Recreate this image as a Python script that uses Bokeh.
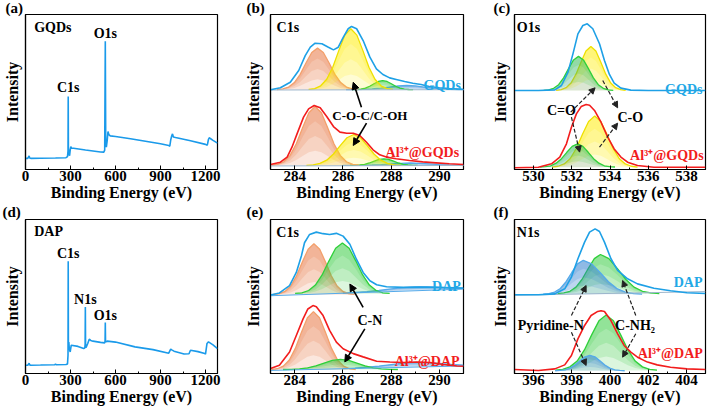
import numpy as np
from bokeh.plotting import figure
from bokeh.layouts import gridplot
from bokeh.models import Range1d, Label, Arrow, NormalHead, FixedTicker, Title
from bokeh.embed import file_html
from bokeh.resources import INLINE

FONT = "Liberation Serif"

# ---------------- survey spectra (a) GQDs, (d) DAP ----------------
sa_x = [0, 15, 24, 28, 35, 100, 200, 270, 280, 283.5, 284.8, 286, 290, 294, 298, 302, 306, 320, 400, 500,
        522, 528, 532, 535, 539, 545, 550, 556, 565, 600, 700, 800, 900, 955, 962, 968, 975, 980, 986,
        1000, 1100, 1200, 1212, 1220, 1225, 1232, 1250, 1280]
sa_y = [7.2, 7.2, 8.8, 7.4, 7.2, 7.3, 7.4, 7.6, 8.3, 12, 47.1, 14, 9.8, 8.9, 12.5, 14.8, 13.8, 13.7, 12.6, 11.3,
        11.2, 12.5, 82.7, 16, 14.5, 19, 24.5, 22.5, 21.7, 21.3, 19.8, 18.2, 16.6, 15.5, 15.0, 19, 21.8, 23, 21,
        20.6, 18.6, 16.2, 15.7, 19.5, 20.5, 20.0, 18.8, 17.0]
sd_x = [0, 15, 24, 28, 35, 100, 195, 200, 205, 270, 280, 283.5, 284.8, 286, 289, 292, 298, 305, 350, 388,
        395, 397.5, 399, 400.5, 404, 415, 425, 435, 450, 500, 528, 530.5, 532, 533.5, 537, 545, 600, 730,
        850, 955, 968, 978, 990, 1057, 1090, 1100, 1150, 1195, 1200, 1210, 1220, 1250, 1280]
sd_y = [5.4, 5.4, 6.6, 5.6, 5.4, 5.5, 5.7, 6.2, 5.7, 5.8, 6.2, 12, 72.9, 16, 20.5, 16, 14, 18.4, 17.6, 16.2,
        16.5, 19, 43.2, 17, 17, 19.5, 22.3, 21.5, 21.0, 20.2, 19.9, 21, 33.1, 21.5, 20.5, 21, 20.4, 17.3,
        15.5, 13.2, 15.8, 15.2, 14.5, 12.7, 12.8, 15.1, 14.2, 13.0, 12.6, 19.5, 20.5, 18.6, 16.2]

# ---------------- (b) C1s GQDs / Al3+@GQDs ----------------
b_gqd_env_x = [283.0, 283.41, 283.82, 284.17, 284.44, 284.65, 284.85, 285.13, 285.40, 285.61, 285.81, 286.02,
               286.22, 286.36, 286.57, 286.84, 287.12, 287.39, 287.66, 287.94, 288.21, 288.56, 288.90, 289.24,
               289.58, 290.0, 290.41, 291.0]
b_gqd_env_y = [51.4, 52.7, 56.3, 63.9, 73.5, 78.9, 81.5, 81.1, 78.9, 77.2, 78.9, 85.4, 90.8, 92.3, 90.8, 83.2,
               72.5, 64.9, 61.3, 59.1, 58.1, 56.8, 55.7, 54.8, 53.5, 52.7, 52.3, 51.8]
b_gqd_base = 51.5
b_gqd_c1_x = [283.27, 283.51, 283.75, 283.99, 284.23, 284.47, 284.71, 284.95, 285.19, 285.43, 285.67, 285.91, 286.15, 286.39, 286.63]
b_gqd_c1_y = [51.6, 52.0, 53.2, 56.1, 61.4, 68.7, 75.5, 78.3, 75.5, 68.7, 61.4, 56.1, 53.2, 52.0, 51.6]
b_gqd_c2_x = [284.58, 284.83, 285.08, 285.33, 285.58, 285.83, 286.08, 286.33, 286.58, 286.83, 287.08, 287.33, 287.58, 287.83, 288.08]
b_gqd_c2_y = [51.7, 52.2, 54.0, 58.2, 66.0, 76.7, 86.7, 90.8, 86.7, 76.7, 66.0, 58.2, 54.0, 52.2, 51.7]
b_gqd_c3_x = [286.39, 286.57, 286.75, 286.93, 287.11, 287.29, 287.47, 287.65, 287.83, 288.01, 288.19, 288.37, 288.55, 288.73, 288.91]
b_gqd_c3_y = [51.5, 51.6, 51.9, 52.5, 53.7, 55.3, 56.8, 57.4, 56.8, 55.3, 53.7, 52.5, 51.9, 51.6, 51.5]
b_gqd_c4_x = [286.13, 286.49, 286.85, 287.21, 287.57, 287.93, 288.29, 288.65, 289.01, 289.37, 289.73, 290.09, 290.45, 290.81, 291.17]
b_gqd_c4_y = [51.5, 51.6, 51.7, 52.0, 52.5, 53.2, 53.9, 54.2, 53.9, 53.2, 52.5, 52.0, 51.7, 51.6, 51.5]
b_gqd_bg_x = [283.0, 291.0]
b_gqd_bg_y = [51.3, 51.5]

b_al_env_x = [283.0, 283.41, 283.69, 283.89, 284.10, 284.37, 284.58, 284.81, 285.06, 285.33, 285.61, 285.88,
              286.16, 286.43, 286.70, 286.98, 287.25, 287.53, 287.80, 288.21, 288.76, 289.31, 289.86, 290.41, 291.0]
b_al_env_y = [3.2, 4.7, 8.0, 14.4, 23.0, 33.8, 39.1, 41.3, 39.8, 34.2, 27.7, 24.1, 23.4, 23.4, 21.9, 17.6,
              12.7, 9.5, 8.0, 6.9, 5.8, 4.9, 4.3, 3.7, 3.2]
b_al_base = 2.6
b_al_c1_x = [283.03, 283.29, 283.55, 283.81, 284.07, 284.33, 284.59, 284.85, 285.11, 285.37, 285.63, 285.89, 286.15, 286.41, 286.67]
b_al_c1_y = [2.8, 3.3, 5.0, 9.1, 16.6, 27.0, 36.6, 40.6, 36.6, 27.0, 16.6, 9.1, 5.0, 3.3, 2.8]
b_al_c2_x = [284.49, 284.77, 285.05, 285.33, 285.61, 285.89, 286.17, 286.45, 286.73, 287.01, 287.29, 287.57, 287.85, 288.13, 288.41]
b_al_c2_y = [2.7, 3.0, 3.9, 6.0, 10.0, 15.4, 20.5, 22.6, 20.5, 15.4, 10.0, 6.0, 3.9, 3.0, 2.7]
b_al_c3_x = [286.3, 286.5, 286.7, 286.9, 287.1, 287.3, 287.5, 287.7, 287.9, 288.1, 288.3, 288.5, 288.7, 288.9, 289.1]
b_al_c3_y = [2.6, 2.7, 2.9, 3.3, 4.2, 5.4, 6.5, 6.9, 6.5, 5.4, 4.2, 3.3, 2.9, 2.7, 2.6]
b_al_c4_x = [286.0, 286.4, 286.8, 287.2, 287.6, 288.0, 288.4, 288.8, 289.2, 289.6, 290.0, 290.4, 290.8, 291.2, 291.6]
b_al_c4_y = [2.6, 2.6, 2.7, 2.9, 3.2, 3.6, 4.0, 4.2, 4.0, 3.6, 3.2, 2.9, 2.7, 2.6, 2.6]
b_al_bg_x = [283.0, 291.0]
b_al_bg_y = [2.3, 2.6]

# ---------------- (c) O1s GQDs / Al3+@GQDs ----------------
c_gqd_env_x = [529.0, 530.25, 531.11, 531.46, 531.80, 532.06, 532.32, 532.58, 532.81, 533.10, 533.45, 533.71,
               533.97, 534.22, 534.57, 535.09, 536.0, 539.0]
c_gqd_env_y = [51.0, 51.0, 51.4, 54.2, 62.8, 74.6, 87.5, 92.9, 94.0, 90.8, 81.1, 70.3, 61.3, 55.7, 52.5, 51.2, 51.0, 51.0]
c_gqd_base = 51.0
c_gqd_c1_x = [530.53, 530.79, 531.05, 531.31, 531.57, 531.83, 532.09, 532.35, 532.61, 532.87, 533.13, 533.39, 533.65, 533.91, 534.17]
c_gqd_c1_y = [51.1, 51.4, 52.4, 54.7, 59.1, 65.1, 70.7, 73.0, 70.7, 65.1, 59.1, 54.7, 52.4, 51.4, 51.1]
c_gqd_c2_x = [531.18, 531.44, 531.70, 531.96, 532.22, 532.48, 532.74, 533.0, 533.26, 533.52, 533.78, 534.04, 534.30, 534.56, 534.82]
c_gqd_c2_y = [51.1, 51.5, 52.8, 55.8, 61.5, 69.2, 76.4, 79.4, 76.4, 69.2, 61.5, 55.8, 52.8, 51.5, 51.1]

c_al_env_x = [529.0, 530.25, 530.94, 531.37, 531.72, 531.98, 532.24, 532.49, 532.75, 532.93, 533.19, 533.53,
              533.88, 534.22, 534.57, 534.92, 535.44, 536.30, 539.0]
c_al_env_y = [1.1, 1.5, 3.7, 8.0, 16.6, 27.3, 35.9, 40.6, 41.9, 41.5, 38.1, 30.5, 20.9, 13.3, 8.0, 4.7, 2.6, 1.5, 1.5]
c_al_base = 1.5
c_al_c1_x = [530.34, 530.62, 530.90, 531.18, 531.46, 531.74, 532.02, 532.3, 532.58, 532.86, 533.14, 533.42, 533.70, 533.98, 534.26]
c_al_c1_y = [1.6, 1.8, 2.4, 4.1, 7.0, 11.1, 14.9, 16.5, 14.9, 11.1, 7.0, 4.1, 2.4, 1.8, 1.6]
c_al_c2_x = [530.96, 531.28, 531.60, 531.92, 532.24, 532.56, 532.88, 533.2, 533.52, 533.84, 534.16, 534.48, 534.80, 535.12, 535.44]
c_al_c2_y = [1.6, 2.1, 3.6, 7.1, 13.7, 22.7, 31.0, 34.5, 31.0, 22.7, 13.7, 7.1, 3.6, 2.1, 1.6]

# ---------------- (e) C1s DAP / Al3+@DAP ----------------
e_dap_env_x = [283.0, 283.37, 283.79, 284.07, 284.28, 284.41, 284.62, 284.90, 285.18, 285.45, 285.73, 286.01,
               286.29, 286.56, 286.84, 287.12, 287.40, 287.81, 288.51, 289.20, 289.89, 291.0]
e_dap_env_y = [51.0, 52.3, 57.0, 65.6, 76.3, 84.9, 90.3, 91.8, 90.8, 90.3, 91.0, 89.2, 83.9, 74.2, 65.6, 60.2,
               57.6, 56.3, 55.9, 56.1, 55.9, 55.5]
e_dap_c1_x = [283.12, 283.36, 283.60, 283.84, 284.08, 284.32, 284.56, 284.8, 285.04, 285.28, 285.52, 285.76, 286.0, 286.24, 286.48]
e_dap_c1_y = [51.4, 51.8, 53.3, 56.8, 63.4, 72.4, 80.7, 84.2, 80.7, 72.4, 63.4, 56.8, 53.3, 51.8, 51.4]
e_dap_c1_base = 51.2
e_dap_c2_x = [284.02, 284.30, 284.58, 284.86, 285.14, 285.42, 285.70, 285.98, 286.26, 286.54, 286.82, 287.10, 287.38, 287.66, 287.94]
e_dap_c2_y = [52.0, 52.4, 53.9, 57.4, 64.0, 73.0, 81.3, 84.8, 81.3, 73.0, 64.0, 57.4, 53.9, 52.4, 52.0]
e_dap_c2_base = 51.8
e_dap_c3_x = [286.0, 286.5, 287.0, 287.5, 288.0, 288.5, 289.0, 289.5, 290.0, 290.5, 291.0]
e_dap_c3_y = [52.2, 52.6, 53.2, 53.9, 54.9, 55.8, 56.2, 56.3, 55.9, 55.5, 55.3]
e_dap_c3_base = [52.1, 52.4, 52.7, 52.9, 53.2, 53.5, 53.7, 54.0, 54.3, 54.5, 54.8]
e_dap_bg_x = [283.0, 291.0]
e_dap_bg_y = [50.5, 54.8]

e_al_env_x = [283.0, 283.37, 283.79, 284.07, 284.35, 284.55, 284.76, 284.90, 285.18, 285.45, 285.73, 286.01,
              286.43, 286.84, 287.40, 287.95, 288.51, 289.06, 289.62, 290.17, 290.73, 291.0]
e_al_env_y = [3.2, 5.4, 14.0, 24.7, 35.5, 41.9, 44.1, 43.4, 37.6, 28.0, 20.4, 16.1, 12.9, 10.8, 8.0, 7.5, 7.1,
              7.5, 7.1, 5.8, 4.9, 4.7]
e_al_c1_x = [283.03, 283.28, 283.53, 283.78, 284.03, 284.28, 284.53, 284.78, 285.03, 285.28, 285.53, 285.78, 286.03, 286.28, 286.53]
e_al_c1_y = [2.6, 3.1, 4.8, 8.8, 16.3, 26.7, 36.2, 40.2, 36.2, 26.7, 16.3, 8.8, 4.8, 3.1, 2.6]
e_al_c1_base = 2.4
e_al_c2_x = [283.52, 283.86, 284.20, 284.54, 284.88, 285.22, 285.56, 285.9, 286.24, 286.58, 286.92, 287.26, 287.60, 287.94, 288.28]
e_al_c2_y = [2.6, 2.7, 3.0, 3.7, 5.0, 6.8, 8.5, 9.2, 8.5, 6.8, 5.0, 3.7, 3.0, 2.7, 2.6]
e_al_c2_base = 2.6
e_al_c3_x = [286.0, 286.5, 287.0, 287.5, 288.0, 288.5, 289.0, 289.5, 290.0, 290.5, 291.0]
e_al_c3_y = [3.2, 3.5, 4.1, 4.8, 5.8, 6.7, 7.2, 7.1, 6.5, 5.9, 5.5]
e_al_c3_base = [3.1, 3.3, 3.5, 3.6, 3.8, 4.0, 4.2, 4.4, 4.5, 4.7, 4.9]
e_al_bg_x = [283.0, 291.0]
e_al_bg_y = [2.0, 4.9]

# ---------------- (f) N1s DAP / Al3+@DAP ----------------
f_dap_env_x = [395.0, 396.25, 397.11, 397.63, 397.98, 398.32, 398.67, 398.93, 399.22, 399.45, 399.71, 400.05,
               400.40, 400.92, 401.44, 402.30, 403.17, 404.03, 405.0]
f_dap_env_y = [51.1, 51.1, 51.7, 55.0, 62.6, 74.5, 85.3, 91.8, 93.9, 92.2, 85.3, 74.5, 66.9, 61.5, 58.2, 55.4,
               53.7, 52.4, 51.9]
f_dap_c1_x = [396.5, 396.8, 397.1, 397.4, 397.7, 398.0, 398.3, 398.6, 399.04, 399.48, 399.92, 400.36, 400.80, 401.24, 401.68]
f_dap_c1_y = [51.6, 51.9, 52.9, 55.2, 59.6, 65.6, 71.2, 73.5, 71.2, 65.6, 59.6, 55.2, 52.9, 51.9, 51.6]
f_dap_c1_base = 51.5
f_dap_c2_x = [397.26, 397.58, 397.9, 398.22, 398.54, 398.86, 399.18, 399.5, 399.94, 400.38, 400.82, 401.26, 401.70, 402.14, 402.58]
f_dap_c2_y = [51.9, 52.3, 53.4, 56.1, 61.2, 68.2, 74.6, 77.3, 74.6, 68.2, 61.2, 56.1, 53.4, 52.3, 51.9]
f_dap_c2_base = 51.8
f_dap_bg_x = [395.0, 405.0]
f_dap_bg_y = [50.8, 53.2]

f_al_env_x = [395.0, 396.25, 397.11, 397.63, 397.98, 398.32, 398.67, 399.01, 399.36, 399.53, 399.71, 400.05,
              400.40, 400.74, 401.09, 401.44, 401.96, 402.47, 403.17, 404.03, 405.0]
f_al_env_y = [2.6, 1.9, 3.0, 5.6, 11.7, 22.5, 31.2, 37.7, 40.3, 40.7, 40.3, 34.4, 25.8, 18.2, 13.9, 10.6, 7.4,
              5.6, 4.1, 3.0, 2.6]
f_al_c1_x = [397.13, 397.39, 397.65, 397.91, 398.17, 398.43, 398.69, 398.95, 399.21, 399.47, 399.73, 399.99, 400.25, 400.51, 400.77]
f_al_c1_y = [1.8, 2.0, 2.4, 3.5, 5.5, 8.2, 10.8, 11.8, 10.8, 8.2, 5.5, 3.5, 2.4, 2.0, 1.8]
f_al_c1_base = 1.8
f_al_c2_x = [397.14, 397.52, 397.90, 398.28, 398.66, 399.04, 399.42, 399.8, 400.18, 400.56, 400.94, 401.32, 401.70, 402.08, 402.46]
f_al_c2_y = [2.2, 2.7, 4.3, 8.1, 15.3, 25.1, 34.2, 38.0, 34.2, 25.1, 15.3, 8.1, 4.3, 2.7, 2.2]
f_al_c2_base = 2.0

# ---------------- axes ----------------
survey_range = (0, 1280)
c1s_range = (283, 291)
o1s_range = (529, 539)
n1s_range = (395, 405)
survey_ticks = [0, 300, 600, 900, 1200]
survey_minor = [150, 450, 750, 1050]
c1s_ticks = [284, 286, 288, 290]
c1s_minor = [283, 285, 287, 289, 291]
o1s_ticks = [530, 532, 534, 536, 538]
o1s_minor = [529, 531, 533, 535, 537, 539]
n1s_ticks = [396, 398, 400, 402, 404]
n1s_minor = [395, 397, 399, 401, 403, 405]

# ---------------- colours ----------------
SURVEY = "#1A9AEA"
ENV_BLUE = "#1EA0E6"
ENV_RED = "#F21D1D"
TXT_BLUE = "#22A8E6"
TXT_RED = "#F21D1D"
OR_L, OR_F = "#F3A06C", "#E8703A"
YE_L, YE_F = "#EEE000", "#FFEE00"
GR_L, GR_F = "#2FD03A", "#2EC83C"
BL_L, BL_F = "#55AAEA", "#2C7BD0"
BG_C = "#9DB6CC"

# ---------------- layout (pixels; page content starts at 0,0) ----------------
CW = [241, 247, 221]      # column widths (total 709)
CL = [23, 28, 25]         # left borders
CR = [24, 25, 4]          # right borders
RH = [204, 205]           # row heights (total 409)
RT = [14, 15]             # top borders
RB = [35, 36]             # bottom borders
YST = [5, 9, 6]           # y-axis label standoff per column
TAG_DX = [[-20, -24, -21], [-23, -24, -21]]   # tag offset from frame left
TAG_STANDOFF = [-6, -5]


def make_fig(xr, col, row, ticks, minor, tag):
    p = figure(width=CW[col], height=RH[row], x_range=Range1d(*xr), y_range=Range1d(0, 100),
               output_backend="svg", toolbar_location=None,
               min_border_left=CL[col], min_border_right=CR[col],
               min_border_top=RT[row], min_border_bottom=RB[row])
    p.background_fill_color = "white"
    p.border_fill_color = "white"
    p.xgrid.visible = False
    p.ygrid.visible = False
    p.outline_line_color = "black"
    p.outline_line_width = 1.2
    p.outline_line_alpha = 1.0
    p.title = Title(text=tag, align="left", offset=TAG_DX[row][col], vertical_align="top",
                    standoff=TAG_STANDOFF[row], text_font=FONT, text_font_style="bold",
                    text_font_size="15px", text_color="black")
    xa = p.xaxis[0]
    xa.ticker = FixedTicker(ticks=ticks, minor_ticks=minor)
    xa.major_tick_in = 4
    xa.major_tick_out = 0
    xa.minor_tick_in = 2
    xa.minor_tick_out = 0
    xa.major_tick_line_color = "black"
    xa.minor_tick_line_color = "black"
    xa.axis_line_color = "black"
    xa.axis_line_width = 1.2
    xa.major_label_standoff = 1
    xa.major_label_text_font = FONT
    xa.major_label_text_font_style = "bold"
    xa.major_label_text_font_size = "15px"
    xa.major_label_text_color = "black"
    xa.axis_label = "Binding Energy (eV)"
    xa.axis_label_standoff = 0
    xa.axis_label_text_font = FONT
    xa.axis_label_text_font_style = "bold"
    xa.axis_label_text_font_size = "16px"
    xa.axis_label_text_color = "black"
    ya = p.yaxis[0]
    ya.ticker = FixedTicker(ticks=[])
    ya.major_tick_in = 0
    ya.major_tick_out = 0
    ya.minor_tick_in = 0
    ya.minor_tick_out = 0
    ya.major_label_standoff = 0
    ya.axis_line_color = "black"
    ya.axis_line_width = 1.2
    ya.axis_label = "Intensity"
    ya.axis_label_standoff = YST[col]
    ya.axis_label_text_font = FONT
    ya.axis_label_text_font_style = "bold"
    ya.axis_label_text_font_size = "16px"
    ya.axis_label_text_color = "black"
    return p


def shaded(p, xs, ys, base, fill, line, bottom=None, layers=4, alpha=0.17):
    xs = np.asarray(xs, float)
    ys = np.asarray(ys, float)
    b = np.broadcast_to(np.asarray(base, float), ys.shape)
    for k in range(layers):
        lo = b + (ys - b) * (k / layers)
        col = bottom if (bottom is not None and k == 0) else fill
        p.varea(x=xs, y1=lo, y2=ys, fill_color=col, fill_alpha=alpha)
    p.line(xs, ys, line_color=line, line_width=1.3)


def txt(p, x, y, s, color="black", align="left", size="14px"):
    p.add_layout(Label(x=x, y=y, text=s, text_font=FONT, text_font_style="bold", text_font_size=size,
                       text_color=color, text_align=align, text_baseline="middle"))


def arrow(p, x0, y0, x1, y1, dashed=False):
    if dashed:
        p.add_layout(Arrow(end=NormalHead(size=6, fill_color="#222222", line_color="#222222"),
                           x_start=x0, y_start=y0, x_end=x1, y_end=y1,
                           line_color="#222222", line_width=1.2, line_dash="4 2"))
    else:
        p.add_layout(Arrow(end=NormalHead(size=7, fill_color="black", line_color="black"),
                           x_start=x0, y_start=y0, x_end=x1, y_end=y1,
                           line_color="black", line_width=1.6))


pa = make_fig(survey_range, 0, 0, survey_ticks, survey_minor, "(a)")
pb = make_fig(c1s_range, 1, 0, c1s_ticks, c1s_minor, "(b)")
pc = make_fig(o1s_range, 2, 0, o1s_ticks, o1s_minor, "(c)")
pd = make_fig(survey_range, 0, 1, survey_ticks, survey_minor, "(d)")
pe = make_fig(c1s_range, 1, 1, c1s_ticks, c1s_minor, "(e)")
pf = make_fig(n1s_range, 2, 1, n1s_ticks, n1s_minor, "(f)")

# (a)
pa.line(sa_x, sa_y, line_color=SURVEY, line_width=1.6)
txt(pa, 58, 91.7, "GQDs")
txt(pa, 284.8, 52.8, "C1s", align="center")
txt(pa, 532, 87.9, "O1s", align="center")

# (d)
pd.line(sd_x, sd_y, line_color=SURVEY, line_width=1.6)
txt(pd, 58, 92.4, "DAP")
txt(pd, 284.8, 78.1, "C1s", align="center")
txt(pd, 399, 48.2, "N1s", align="center")
txt(pd, 532, 37.9, "O1s", align="center")

# (b)
shaded(pb, b_gqd_c4_x, b_gqd_c4_y, b_gqd_base, BL_F, BL_L)
shaded(pb, b_gqd_c3_x, b_gqd_c3_y, b_gqd_base, GR_F, GR_L)
shaded(pb, b_gqd_c1_x, b_gqd_c1_y, b_gqd_base, OR_F, OR_L)
shaded(pb, b_gqd_c2_x, b_gqd_c2_y, b_gqd_base, YE_F, YE_L)
pb.line(b_gqd_bg_x, b_gqd_bg_y, line_color=BG_C, line_width=1)
pb.line(b_gqd_env_x, b_gqd_env_y, line_color=ENV_BLUE, line_width=1.6)
shaded(pb, b_al_c4_x, b_al_c4_y, b_al_base, BL_F, BL_L)
shaded(pb, b_al_c3_x, b_al_c3_y, b_al_base, GR_F, GR_L)
shaded(pb, b_al_c1_x, b_al_c1_y, b_al_base, OR_F, OR_L)
shaded(pb, b_al_c2_x, b_al_c2_y, b_al_base, YE_F, YE_L)
pb.line(b_al_bg_x, b_al_bg_y, line_color=BG_C, line_width=1)
pb.line(b_al_env_x, b_al_env_y, line_color=ENV_RED, line_width=1.6)
txt(pb, 283.25, 91.8, "C1s")
txt(pb, 290.89, 54.2, "GQDs", color=TXT_BLUE, align="right")
txt(pb, 290.82, 11.2, "Al³⁺@GQDs", color=TXT_RED, align="right")
txt(pb, 287.12, 34.8, "C-O-C/C-OH", align="center", size="13px")
arrow(pb, 286.77, 40.2, 286.43, 56.3)
arrow(pb, 286.98, 29.9, 286.43, 15.5)

# (c)
shaded(pc, c_gqd_c2_x, c_gqd_c2_y, c_gqd_base, YE_F, YE_L)
shaded(pc, c_gqd_c1_x, c_gqd_c1_y, c_gqd_base, GR_F, GR_L, bottom=BL_F)
pc.line(c_gqd_env_x, c_gqd_env_y, line_color=ENV_BLUE, line_width=1.6)
shaded(pc, c_al_c2_x, c_al_c2_y, c_al_base, YE_F, YE_L)
shaded(pc, c_al_c1_x, c_al_c1_y, c_al_base, GR_F, GR_L, bottom=BL_F)
pc.line(c_al_env_x, c_al_env_y, line_color=ENV_RED, line_width=1.6)
txt(pc, 529.12, 91.8, "O1s")
txt(pc, 538.84, 51.6, "GQDs", color=TXT_BLUE, align="right")
txt(pc, 538.9, 9.0, "Al³⁺@GQDs", color=TXT_RED, align="right")
txt(pc, 531.46, 38.1, "C=O", align="center")
txt(pc, 535.06, 33.8, "C-O", align="center")
arrow(pc, 531.94, 37.0, 533.22, 52.7, dashed=True)
arrow(pc, 531.98, 33.8, 532.41, 11.2, dashed=True)
arrow(pc, 533.62, 57.4, 534.40, 39.8, dashed=True)
arrow(pc, 533.45, 14.4, 534.40, 29.9, dashed=True)

# (e)
shaded(pe, e_dap_c3_x, e_dap_c3_y, e_dap_c3_base, BL_F, BL_L)
shaded(pe, e_dap_c1_x, e_dap_c1_y, e_dap_c1_base, OR_F, OR_L)
shaded(pe, e_dap_c2_x, e_dap_c2_y, e_dap_c2_base, GR_F, GR_L)
pe.line(e_dap_bg_x, e_dap_bg_y, line_color=BL_L, line_width=1)
pe.line(e_dap_env_x, e_dap_env_y, line_color=ENV_BLUE, line_width=1.6)
shaded(pe, e_al_c3_x, e_al_c3_y, e_al_c3_base, BL_F, BL_L)
shaded(pe, e_al_c1_x, e_al_c1_y, e_al_c1_base, OR_F, OR_L)
shaded(pe, e_al_c2_x, e_al_c2_y, e_al_c2_base, GR_F, GR_L)
pe.line(e_al_bg_x, e_al_bg_y, line_color=BL_L, line_width=1)
pe.line(e_al_env_x, e_al_env_y, line_color=ENV_RED, line_width=1.6)
txt(pe, 283.24, 91.4, "C1s")
txt(pe, 290.89, 56.6, "DAP", color=TXT_BLUE, align="right")
txt(pe, 290.84, 7.5, "Al³⁺@DAP", color=TXT_RED, align="right")
txt(pe, 287.12, 34.4, "C-N", align="center")
arrow(pe, 286.84, 43.0, 286.29, 58.1)
arrow(pe, 286.91, 29.0, 286.08, 7.5)

# (f)
shaded(pf, f_dap_c2_x, f_dap_c2_y, f_dap_c2_base, GR_F, GR_L)
shaded(pf, f_dap_c1_x, f_dap_c1_y, f_dap_c1_base, BL_F, BL_L)
pf.line(f_dap_bg_x, f_dap_bg_y, line_color=BG_C, line_width=1)
pf.line(f_dap_env_x, f_dap_env_y, line_color=ENV_BLUE, line_width=1.6)
shaded(pf, f_al_c2_x, f_al_c2_y, f_al_c2_base, GR_F, GR_L)
shaded(pf, f_al_c1_x, f_al_c1_y, f_al_c1_base, BL_F, BL_L)
pf.line(f_al_env_x, f_al_env_y, line_color=ENV_RED, line_width=1.6)
txt(pf, 395.12, 91.8, "N1s")
txt(pf, 404.84, 59.3, "DAP", color=TXT_BLUE, align="right")
txt(pf, 404.86, 12.8, "Al³⁺@DAP", color=TXT_RED, align="right")
txt(pf, 396.9, 31.2, "Pyridine-N", align="center")
txt(pf, 401.31, 31.2, "C-NH₂", align="center")
arrow(pf, 397.98, 37.7, 398.75, 57.1, dashed=True)
arrow(pf, 397.98, 26.8, 398.75, 5.2, dashed=True)
arrow(pf, 401.35, 37.7, 400.66, 60.4, dashed=True)
arrow(pf, 401.35, 25.8, 400.66, 10.6, dashed=True)

grid = gridplot([[pa, pb, pc], [pd, pe, pf]], toolbar_location=None)

with open("out.html", "w") as fh:
    fh.write(file_html(grid, INLINE))
